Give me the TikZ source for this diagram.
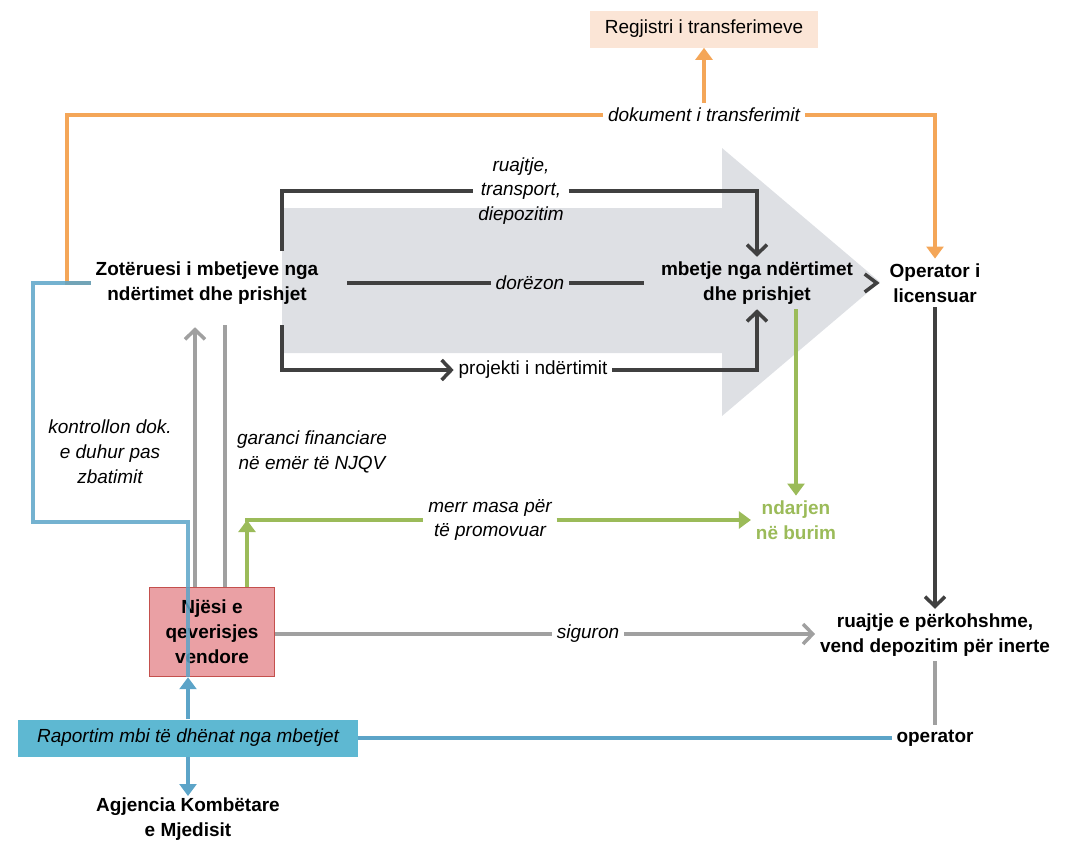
\documentclass[tikz,border=0pt]{standalone}
\usepackage{fontspec}
\setmainfont{Liberation Sans}
\usepackage{tikz}
\usetikzlibrary{arrows.meta, positioning, calc}
\definecolor{darkgrey}{RGB}{64,64,64}
\definecolor{midgrey}{RGB}{160,160,160}
\definecolor{flowgrey}{RGB}{222,224,228}
\definecolor{transorange}{RGB}{244,166,88}
\definecolor{registerpeach}{RGB}{251,229,214}
\definecolor{reportblue}{RGB}{92,164,200}
\definecolor{reportfill}{RGB}{94,184,210}
\definecolor{sortgreen}{RGB}{155,187,89}
\definecolor{lgupink}{RGB}{234,160,164}
\definecolor{lgured}{RGB}{196,80,77}
\newcommand{\diafont}{\fontsize{13.5}{17.7}\selectfont}

\begin{document}
\begin{tikzpicture}[x=0.025cm, y=-0.025cm,
  actor/.style={font=\diafont\bfseries, align=center},
  lbl/.style={font=\diafont\itshape, align=center},
  darkline/.style={draw=darkgrey, line width=2.5pt},
  greyline/.style={draw=midgrey, line width=2.5pt},
  orangeline/.style={draw=transorange, line width=2.5pt},
  blueline/.style={draw=reportblue, line width=2.5pt},
  greenline/.style={draw=sortgreen, line width=2.5pt},
  barb/.style={-{Straight Barb[length=2.4mm,width=5mm]}},
  tri/.style={-{Triangle[length=3mm,width=4.2mm]}}]
  \useasboundingbox (0,0) rectangle (1084,844);
  % Flow arrow in the background
  \fill[flowgrey] (282,208) -- (722,208) -- (722,148) -- (880,282) -- (722,416) -- (722,353) -- (282,353) -- cycle;
  % Actors
  \node[actor] (owner) at (207,283) {Zotëruesi i mbetjeve nga\\ndërtimet dhe prishjet};
  \node[actor] (waste) at (757,283) {mbetje nga ndërtimet\\dhe prishjet};
  \node[actor] (licop) at (935,283) {Operator i\\licensuar};
  \node[actor] (storage) at (935,635) {ruajtje e përkohshme,\\vend depozitim për inerte};
  \node[actor] (siteop) at (935,738) {operator};
  \node[actor, inner sep=1pt] (agency) at (188,819) {Agjencia Kombëtare\\e Mjedisit};
  \node[actor, text=sortgreen] (source) at (796,520) {ndarjen\\në burim};
  \node[actor, draw=lgured, fill=lgupink, line width=1pt, minimum width=3.125cm, minimum height=2.225cm] (lgu) at (212,632) {Njësi e\\qeverisjes\\vendore};
  \node[font=\diafont, fill=registerpeach, minimum width=5.7cm, minimum height=0.925cm] (register) at (704,29) {Regjistri i transferimeve};
  \node[lbl, fill=reportfill, minimum width=8.475cm, minimum height=0.925cm] (report) at (188,738) {Raportim mbi të dhënat nga mbetjet};
  % Labels on the connectors
  \node[lbl] (transdoc) at (704,115) {dokument i transferimit};
  \node[lbl] (carry) at (521,191) {ruajtje,\\transport,\\diepozitim};
  \node[lbl] (hand) at (530,283) {dorëzon};
  \node[font=\diafont] (project) at (533,370) {projekti i ndërtimit};
  \node[lbl] (check) at (110,452) {kontrollon dok.\\e duhur pas\\zbatimit};
  \node[lbl] (guarantee) at (312,452) {garanci financiare\\në emër të NJQV};
  \node[lbl] (promote) at (490,520) {merr masa për\\të promovuar};
  \node[lbl] (ensure) at (588,634) {siguron};
  % Transfer document
  \draw[orangeline] (owner.west) -- (67,283) |- (transdoc.west);
  \draw[orangeline, tri] (transdoc.east) -| (licop.north);
  \draw[orangeline, tri] (transdoc.north) -- (register.south);
  % Waste flow
  \draw[darkline] ($(owner.north)+(75,-6)$) |- (carry.west);
  \draw[darkline, barb] (carry.east) -| (waste.north);
  \draw[darkline, shorten <=0.6cm] (hand.west -| owner.east) -- (hand.west);
  \draw[darkline, shorten >=0.3cm] (hand.east) -- (hand.east -| waste.west);
  \draw[darkline, barb] ($(owner.south)+(75,16)$) |- (project.west);
  \draw[darkline, barb] (project.east) -| (waste.south);
  \draw[darkline] ($(licop.west)+(-20,-9)$) -- ($(licop.west)+(-8,0)$) -- ($(licop.west)+(-20,9)$);
  \draw[darkline, barb] (licop.south) -- (storage.north);
  % Local government
  \draw[greyline, barb] ($(lgu.north)+(-17,0)$) -- ($(lgu.north |- owner.south)+(-17,18)$);
  \draw[greyline] ($(lgu.north)+(13,0)$) -- ($(lgu.north |- owner.south)+(13,16)$);
  \draw[greenline, tri] ($(lgu.north)+(35,0)$) -- ($(lgu.north |- promote.west)+(35,0)$);
  \draw[greenline] ($(lgu.north |- promote.west)+(33,0)$) -- (promote.west);
  \draw[greenline, tri] (promote.east) -- (source.west);
  \draw[greenline, tri] (source.north |- waste.south) -- (source.north);
  \draw[greyline] (ensure.west -| lgu.east) -- (ensure.west);
  \draw[greyline, barb] (ensure.east) -- (ensure.east -| storage.west);
  \draw[greyline] (storage.south) -- (siteop.north);
  % Reporting
  \draw[blueline, opacity=0.85] (owner.west) -| (33,522) -| (report.north |- lgu.south);
  \draw[blueline, tri] (report.north) -- (report.north |- lgu.south);
  \draw[blueline, tri] (report.south) -- (agency.north);
  \draw[blueline] (report.east) -- (siteop.west);
\end{tikzpicture}
\end{document}
